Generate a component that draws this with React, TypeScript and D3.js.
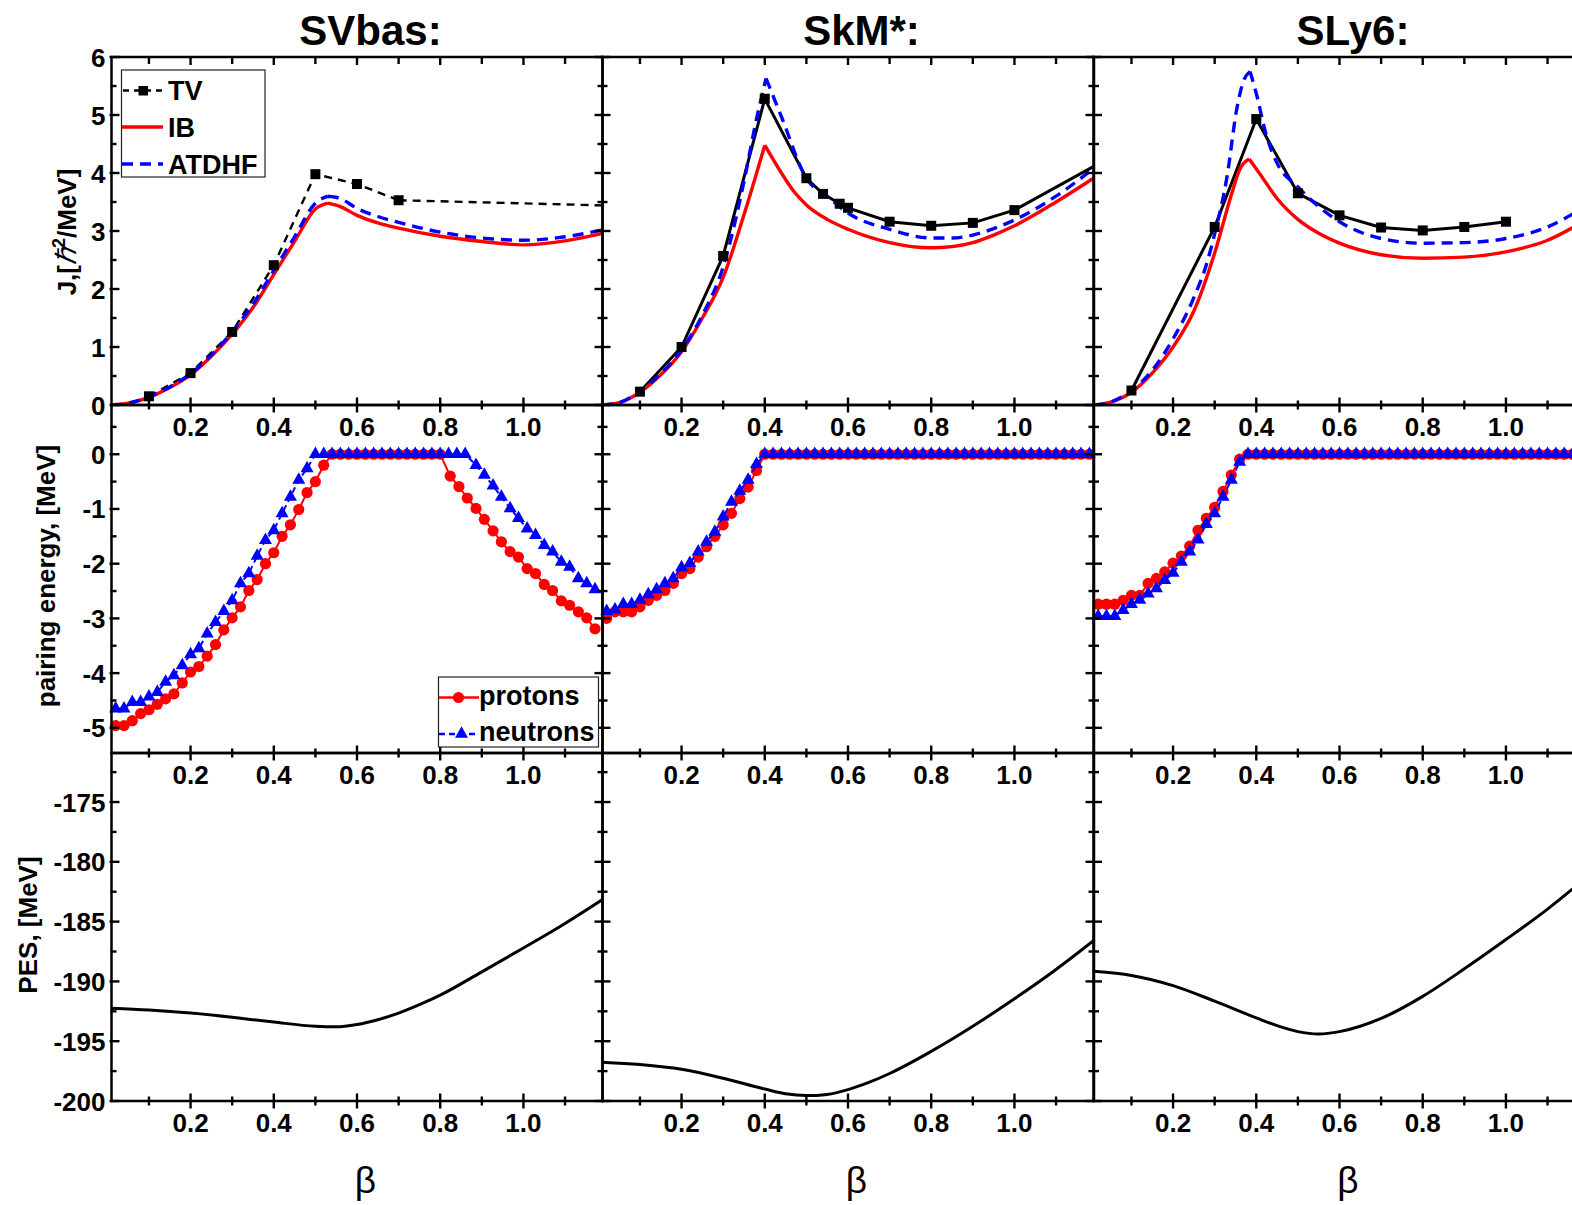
import React from "react";
import * as d3 from "d3";

type Pt = [number, number];

// ================= DATA =================
const panelTitles = ["SVbas:", "SkM*:", "SLy6:"];
const yTitlesRow = ["J", "pairing energy, [MeV]", "PES, [MeV]"];
const legendJ = ["TV", "IB", "ATDHF"];
const legendPair = ["protons", "neutrons"];

const betaMajor = [0.2, 0.4, 0.6, 0.8, 1.0];
const betaMinor = [0.1, 0.3, 0.5, 0.7, 0.9, 1.1];
const jMajor = [0, 1, 2, 3, 4, 5, 6];
const jMinor = [0.5, 1.5, 2.5, 3.5, 4.5, 5.5];
const pairMajor = [-5, -4, -3, -2, -1, 0];
const pairMinor = [-4.5, -3.5, -2.5, -1.5, -0.5, 0.5];
const pesMajor = [-200, -195, -190, -185, -180, -175];
const pesMinor = [-197.5, -192.5, -187.5, -182.5, -177.5, -172.5];

const betaDomain: [number, number] = [0.01, 1.19];
const jDomain: [number, number] = [0, 6];
const pairDomain: [number, number] = [-5.46, 0.9];
const pesDomain: [number, number] = [-200, -170.9];

// ---- moments of inertia (row 1)
const svbasTV: Pt[] = [[0.1, 0.15], [0.2, 0.55], [0.3, 1.26], [0.4, 2.41], [0.5, 3.98], [0.6, 3.81], [0.7, 3.53]];
const svbasTVTail: Pt[] = [[0.7, 3.53], [1.2, 3.44]];
const svbasIB: Pt[] = [[0.01, 0], [0.05, 0.03], [0.1, 0.13], [0.15, 0.3], [0.2, 0.52], [0.25, 0.84], [0.3, 1.22], [0.35, 1.68], [0.4, 2.25], [0.45, 2.82], [0.5, 3.38], [0.53, 3.48], [0.56, 3.42], [0.6, 3.27], [0.65, 3.14], [0.7, 3.05], [0.8, 2.91], [0.9, 2.82], [1.0, 2.76], [1.1, 2.83], [1.19, 2.96]];
const svbasAT: Pt[] = [[0.01, 0], [0.05, 0.03], [0.1, 0.14], [0.15, 0.31], [0.2, 0.54], [0.25, 0.86], [0.3, 1.26], [0.35, 1.74], [0.4, 2.32], [0.45, 2.9], [0.5, 3.48], [0.53, 3.6], [0.56, 3.56], [0.6, 3.39], [0.65, 3.25], [0.7, 3.15], [0.8, 2.98], [0.9, 2.88], [1.0, 2.84], [1.1, 2.9], [1.19, 3.02]];

const skmTV: Pt[] = [[0.1, 0.23], [0.2, 1.0], [0.3, 2.57], [0.4, 5.28], [0.5, 3.91], [0.54, 3.64], [0.58, 3.47], [0.6, 3.4], [0.7, 3.16], [0.8, 3.09], [0.9, 3.14], [1.0, 3.36], [1.2, 4.15]];
const skmIB: Pt[] = [[0.01, 0], [0.05, 0.04], [0.1, 0.22], [0.15, 0.52], [0.2, 0.92], [0.25, 1.5], [0.3, 2.2], [0.35, 3.28], [0.4, 4.48], [0.44, 4.0], [0.47, 3.68], [0.5, 3.45], [0.55, 3.2], [0.6, 3.03], [0.7, 2.8], [0.8, 2.71], [0.85, 2.73], [0.9, 2.8], [0.95, 2.93], [1.0, 3.09], [1.1, 3.5], [1.19, 3.91]];
const skmAT: Pt[] = [[0.01, 0], [0.05, 0.04], [0.1, 0.24], [0.15, 0.54], [0.2, 0.95], [0.25, 1.55], [0.3, 2.38], [0.35, 3.85], [0.378, 4.86], [0.403, 5.63], [0.44, 4.97], [0.5, 3.91], [0.55, 3.6], [0.6, 3.31], [0.7, 3.03], [0.8, 2.88], [0.85, 2.88], [0.9, 2.93], [0.95, 3.04], [1.0, 3.19], [1.1, 3.6], [1.19, 4.08]];

const sly6TV: Pt[] = [[0.1, 0.25], [0.3, 3.07], [0.4, 4.93], [0.5, 3.65], [0.6, 3.27], [0.7, 3.06], [0.8, 3.01], [0.9, 3.07], [1.0, 3.16]];
const sly6IB: Pt[] = [[0.01, 0], [0.05, 0.05], [0.1, 0.22], [0.15, 0.55], [0.2, 1.0], [0.25, 1.62], [0.3, 2.62], [0.34, 3.62], [0.36, 4.06], [0.383, 4.24], [0.41, 3.97], [0.45, 3.56], [0.5, 3.2], [0.55, 2.96], [0.6, 2.79], [0.7, 2.59], [0.8, 2.53], [0.9, 2.55], [1.0, 2.64], [1.1, 2.84], [1.19, 3.18]];
const sly6AT: Pt[] = [[0.01, 0], [0.05, 0.05], [0.1, 0.25], [0.15, 0.6], [0.2, 1.14], [0.25, 1.85], [0.28, 2.42], [0.3, 2.95], [0.33, 3.95], [0.353, 5.1], [0.37, 5.6], [0.385, 5.75], [0.4, 5.37], [0.425, 4.63], [0.45, 4.17], [0.5, 3.76], [0.6, 3.16], [0.7, 2.87], [0.8, 2.79], [0.9, 2.8], [1.0, 2.87], [1.1, 3.07], [1.19, 3.42]];

// ---- pairing energies (row 2)
const zeroPlateau = (from: number, to: number): Pt[] =>
  d3.range(Math.round(from * 100), Math.round(to * 100) + 1, 2).map((b) => [b / 100, 0] as Pt);

const svbasProtons: Pt[] = [
  [0.02, -4.96], [0.04, -4.96], [0.06, -4.87], [0.08, -4.74], [0.1, -4.67], [0.12, -4.57], [0.14, -4.47], [0.16, -4.38],
  [0.18, -4.18], [0.2, -3.98], [0.22, -3.88], [0.24, -3.69], [0.26, -3.48], [0.28, -3.21], [0.3, -2.99], [0.32, -2.79],
  [0.34, -2.49], [0.36, -2.29], [0.38, -2.0], [0.4, -1.8], [0.42, -1.5], [0.44, -1.29], [0.46, -1.01], [0.48, -0.7],
  [0.5, -0.5], [0.52, -0.2],
  ...zeroPlateau(0.54, 0.8),
  [0.824, -0.4], [0.845, -0.59], [0.865, -0.8], [0.886, -0.99], [0.906, -1.19], [0.927, -1.4], [0.947, -1.6], [0.968, -1.78],
  [0.988, -1.88], [1.009, -2.09], [1.029, -2.18], [1.05, -2.38], [1.07, -2.49], [1.091, -2.68], [1.111, -2.76], [1.132, -2.88],
  [1.152, -2.99], [1.172, -3.19],
];
const svbasNeutrons: Pt[] = [
  [0.02, -4.65], [0.04, -4.65], [0.06, -4.53], [0.08, -4.53], [0.1, -4.43], [0.12, -4.35], [0.14, -4.16], [0.16, -4.04],
  [0.18, -3.86], [0.2, -3.66], [0.22, -3.55], [0.24, -3.28], [0.26, -3.07], [0.28, -2.87], [0.3, -2.67], [0.32, -2.36],
  [0.34, -2.18], [0.36, -1.86], [0.38, -1.57], [0.4, -1.39], [0.42, -1.08], [0.44, -0.78], [0.46, -0.47], [0.48, -0.26],
  ...zeroPlateau(0.5, 0.86),
  [0.886, -0.2], [0.906, -0.38], [0.927, -0.575], [0.947, -0.78], [0.968, -0.99], [0.988, -1.17], [1.009, -1.36], [1.029, -1.48],
  [1.05, -1.66], [1.07, -1.78], [1.091, -1.97], [1.111, -2.06], [1.132, -2.27], [1.152, -2.36], [1.172, -2.47],
];
const skmProtons: Pt[] = [
  [0.02, -3.0], [0.04, -2.88], [0.06, -2.88], [0.08, -2.88], [0.1, -2.79], [0.12, -2.67], [0.14, -2.58], [0.16, -2.49],
  [0.18, -2.36], [0.2, -2.18], [0.22, -2.09], [0.24, -1.88], [0.26, -1.69], [0.28, -1.5], [0.3, -1.29], [0.32, -1.08],
  [0.34, -0.81], [0.36, -0.6], [0.38, -0.3],
  ...zeroPlateau(0.4, 1.18),
];
const skmNeutrons: Pt[] = [
  [0.02, -2.87], [0.04, -2.84], [0.06, -2.74], [0.08, -2.74], [0.1, -2.66], [0.12, -2.56], [0.14, -2.47], [0.16, -2.36],
  [0.18, -2.27], [0.2, -2.07], [0.22, -1.99], [0.24, -1.78], [0.26, -1.6], [0.28, -1.42], [0.3, -1.14], [0.32, -0.87],
  [0.34, -0.67], [0.36, -0.47], [0.38, -0.18],
  ...zeroPlateau(0.4, 1.18),
];
const sly6Protons: Pt[] = [
  [0.02, -2.74], [0.04, -2.74], [0.06, -2.74], [0.08, -2.67], [0.1, -2.58], [0.12, -2.58], [0.14, -2.36], [0.16, -2.27],
  [0.18, -2.15], [0.2, -1.99], [0.22, -1.86], [0.24, -1.68], [0.26, -1.39], [0.28, -1.17], [0.3, -0.97], [0.32, -0.68],
  [0.34, -0.38], [0.36, -0.09],
  ...zeroPlateau(0.38, 1.18),
];
const sly6Neutrons: Pt[] = [
  [0.02, -2.96], [0.04, -2.96], [0.06, -2.96], [0.08, -2.85], [0.1, -2.74], [0.12, -2.66], [0.14, -2.55], [0.16, -2.45],
  [0.18, -2.3], [0.2, -2.17], [0.22, -1.97], [0.24, -1.78], [0.26, -1.56], [0.28, -1.28], [0.3, -1.08], [0.32, -0.78],
  [0.34, -0.47], [0.36, -0.14],
  ...zeroPlateau(0.38, 1.18),
];

// ---- potential energy surfaces (row 3)
const svbasPES: Pt[] = [[0.01, -192.25], [0.1, -192.4], [0.2, -192.65], [0.3, -193.0], [0.4, -193.4], [0.5, -193.75], [0.55, -193.8], [0.6, -193.6], [0.65, -193.2], [0.7, -192.65], [0.75, -191.95], [0.8, -191.15], [0.9, -189.2], [1.0, -187.2], [1.1, -185.15], [1.19, -183.15]];
const skmPES: Pt[] = [[0.01, -196.75], [0.1, -196.95], [0.2, -197.35], [0.3, -198.1], [0.4, -199.0], [0.45, -199.4], [0.5, -199.55], [0.55, -199.45], [0.6, -199.05], [0.65, -198.45], [0.7, -197.7], [0.8, -195.85], [0.9, -193.75], [1.0, -191.45], [1.1, -189.0], [1.19, -186.6]];
const sly6PES: Pt[] = [[0.01, -189.15], [0.1, -189.5], [0.2, -190.35], [0.3, -191.65], [0.4, -193.05], [0.45, -193.7], [0.5, -194.2], [0.55, -194.4], [0.6, -194.2], [0.65, -193.75], [0.7, -193.1], [0.8, -191.25], [0.9, -188.95], [1.0, -186.5], [1.1, -183.95], [1.19, -181.4]];

const jSets = [
  { tv: svbasTV, tvTail: svbasTVTail, tvDashed: true, ib: svbasIB, at: svbasAT },
  { tv: skmTV, tvTail: null as Pt[] | null, tvDashed: false, ib: skmIB, at: skmAT },
  { tv: sly6TV, tvTail: null as Pt[] | null, tvDashed: false, ib: sly6IB, at: sly6AT },
];
const pairSets = [
  { p: svbasProtons, n: svbasNeutrons },
  { p: skmProtons, n: skmNeutrons },
  { p: sly6Protons, n: sly6Neutrons },
];
const pesSets = [svbasPES, skmPES, sly6PES];

// ================= LAYOUT =================
const W = 1572;
const H = 1205;
const COL_LEFT = [111.5, 602.5, 1094];
const PANEL_W = 491;
const ROW_TOP = [57, 405, 753];
const PANEL_H = 348;
const FONT = "'Liberation Sans', Arial, Helvetica, sans-serif";
const RED = "#ff0000";
const BLUE = "#0000ff";

const rowCfg = [
  { domain: jDomain, major: jMajor, minor: jMinor },
  { domain: pairDomain, major: pairMajor, minor: pairMinor },
  { domain: pesDomain, major: pesMajor, minor: pesMinor },
];

function smoothSplitPath(pts: Pt[], x: any, y: any): string {
  const i = d3.maxIndex(pts, (d) => d[1]);
  const gen = d3.line<Pt>().x((d) => x(d[0])).y((d) => y(d[1])).curve(d3.curveMonotoneX);
  return (gen(pts.slice(0, i + 1)) || "") + (gen(pts.slice(i)) || "");
}

function triPath(cx: number, cy: number, w = 13, h = 11.5) {
  return `M${cx},${cy - (2 * h) / 3}L${cx + w / 2},${cy + h / 3}L${cx - w / 2},${cy + h / 3}Z`;
}

function Panel({ row, col }: { row: number; col: number }) {
  const L = COL_LEFT[col];
  const T = ROW_TOP[row];
  const R = L + PANEL_W;
  const B = T + PANEL_H;
  const cfg = rowCfg[row];
  const x = d3.scaleLinear().domain(betaDomain).range([L, R]);
  const y = d3.scaleLinear().domain(cfg.domain).range([B, T]);
  const clipId = `clip-${row}-${col}`;
  const lin = d3.line<Pt>().x((d) => x(d[0])).y((d) => y(d[1]));
  const inDom = (d: Pt) => d[0] >= betaDomain[0] && d[0] <= betaDomain[1];
  const tw = 2.4;

  const content: React.ReactNode[] = [];
  if (row === 0) {
    const s = jSets[col];
    content.push(
      <g key="j" clipPath={`url(#${clipId})`}>
        <path d={lin(s.tv) || ""} fill="none" stroke="#000" strokeWidth={s.tvDashed ? 2.4 : 3} strokeDasharray={s.tvDashed ? "8,6" : undefined} />
        {s.tvTail && <path d={lin(s.tvTail) || ""} fill="none" stroke="#000" strokeWidth={2.4} strokeDasharray="8,6" />}
        <path d={smoothSplitPath(s.ib, x, y)} fill="none" stroke={RED} strokeWidth={3.4} strokeLinejoin="round" />
        <path d={smoothSplitPath(s.at, x, y)} fill="none" stroke={BLUE} strokeWidth={3.4} strokeDasharray="11,7" strokeLinejoin="round" />
      </g>
    );
    content.push(
      <g key="jm">
        {s.tv.filter(inDom).map((d, i) => (
          <rect key={i} x={x(d[0]) - 5} y={y(d[1]) - 5} width={10} height={10} fill="#000" />
        ))}
      </g>
    );
  } else if (row === 1) {
    const s = pairSets[col];
    content.push(
      <g key="p">
        <path d={lin(s.p) || ""} fill="none" stroke={RED} strokeWidth={2} clipPath={`url(#${clipId})`} />
        {s.p.filter(inDom).map((d, i) => (
          <circle key={i} cx={x(d[0])} cy={y(d[1])} r={5.6} fill={RED} />
        ))}
        <path d={lin(s.n) || ""} fill="none" stroke={BLUE} strokeWidth={2} strokeDasharray="6,4" clipPath={`url(#${clipId})`} />
        {s.n.filter(inDom).map((d, i) => (
          <path key={i} d={triPath(x(d[0]), y(d[1]))} fill={BLUE} />
        ))}
      </g>
    );
  } else {
    const gen = d3.line<Pt>().x((d) => x(d[0])).y((d) => y(d[1])).curve(d3.curveMonotoneX);
    content.push(
      <g key="pes" clipPath={`url(#${clipId})`}>
        <path d={gen(pesSets[col]) || ""} fill="none" stroke="#000" strokeWidth={3} />
      </g>
    );
  }

  // ticks
  const ticks: React.ReactNode[] = [];
  betaMajor.forEach((v, i) => {
    ticks.push(<line key={`bM${i}`} x1={x(v)} x2={x(v)} y1={B - 7.5} y2={B + 7.5} stroke="#000" strokeWidth={tw} />);
    if (row === 0) ticks.push(<line key={`tM${i}`} x1={x(v)} x2={x(v)} y1={T} y2={T + 8} stroke="#000" strokeWidth={tw} />);
  });
  betaMinor.forEach((v, i) => {
    ticks.push(<line key={`bm${i}`} x1={x(v)} x2={x(v)} y1={B - 4.5} y2={B + 4.5} stroke="#000" strokeWidth={tw} />);
    if (row === 0) ticks.push(<line key={`tm${i}`} x1={x(v)} x2={x(v)} y1={T} y2={T + 7} stroke="#000" strokeWidth={tw} />);
  });
  cfg.major.forEach((v, i) => {
    const yy = y(v);
    ticks.push(<line key={`lM${i}`} x1={L - 2} x2={L + 8} y1={yy} y2={yy} stroke="#000" strokeWidth={tw} />);
    ticks.push(<line key={`rM${i}`} x1={R - 8} x2={R} y1={yy} y2={yy} stroke="#000" strokeWidth={tw} />);
  });
  cfg.minor.forEach((v, i) => {
    const yy = y(v);
    if (yy < T - 0.5 || yy > B + 0.5) return;
    ticks.push(<line key={`lm${i}`} x1={L - 1} x2={L + 5} y1={yy} y2={yy} stroke="#000" strokeWidth={tw} />);
    ticks.push(<line key={`rm${i}`} x1={R - 5} x2={R} y1={yy} y2={yy} stroke="#000" strokeWidth={tw} />);
  });

  const labels: React.ReactNode[] = [];
  betaMajor.forEach((v, i) => {
    labels.push(
      <text key={`xl${i}`} x={x(v)} y={B + 31} textAnchor="middle" fontFamily={FONT} fontWeight="bold" fontSize={26}>
        {d3.format(".1f")(v)}
      </text>
    );
  });
  if (col === 0) {
    cfg.major.forEach((v, i) => {
      labels.push(
        <text key={`yl${i}`} x={L - 6} y={y(v) + 9.5} textAnchor="end" fontFamily={FONT} fontWeight="bold" fontSize={26}>
          {String(v)}
        </text>
      );
    });
  }

  return (
    <g>
      <defs>
        <clipPath id={clipId}>
          <rect x={L} y={T} width={PANEL_W} height={PANEL_H} />
        </clipPath>
      </defs>
      {content}
      <rect x={L} y={T} width={PANEL_W} height={PANEL_H} fill="none" stroke="#000" strokeWidth={2.5} />
      {ticks}
      {labels}
    </g>
  );
}

export default function App() {
  const cells: React.ReactNode[] = [];
  for (let r = 0; r < 3; r++) for (let c = 0; c < 3; c++) cells.push(<Panel key={`${r}-${c}`} row={r} col={c} />);

  return (
    <svg width={W} height={H} viewBox={`0 0 ${W} ${H}`} style={{ position: "absolute", left: 0, top: 0, background: "#fff" }}>
      <rect x={0} y={0} width={W} height={H} fill="#fff" />
      {cells}

      {/* panel titles */}
      {panelTitles.map((t, i) => (
        <text key={t} x={COL_LEFT[i] + 259} y={45} textAnchor="middle" fontFamily={FONT} fontWeight="bold" fontSize={42}>
          {t}
        </text>
      ))}

      {/* beta axis titles */}
      {COL_LEFT.map((l, i) => (
        <text key={`b${i}`} x={l + 254} y={1193} textAnchor="middle" fontFamily={FONT} fontSize={37}>
          β
        </text>
      ))}

      {/* y axis titles */}
      <text transform="translate(76,232) rotate(-90)" textAnchor="middle" fontFamily={FONT} fontWeight="bold" fontSize={26}>
        {yTitlesRow[0]},[
        <tspan fontFamily="'Liberation Serif', 'Times New Roman', serif" fontStyle="italic" fontWeight="normal" fontSize={28}>ℏ</tspan>
        <tspan dy={-11} fontSize={18}>2</tspan>
        <tspan dy={11}>/MeV]</tspan>
      </text>
      <text transform="translate(55,576) rotate(-90)" textAnchor="middle" fontFamily={FONT} fontWeight="bold" fontSize={26}>
        {yTitlesRow[1]}
      </text>
      <text transform="translate(37,925) rotate(-90)" textAnchor="middle" fontFamily={FONT} fontWeight="bold" fontSize={26}>
        {yTitlesRow[2]}
      </text>

      {/* legend J */}
      <g>
        <rect x={121.5} y={70} width={143.5} height={107} fill="#fff" stroke="#222" strokeWidth={1.2} />
        <line x1={123} x2={163} y1={90.5} y2={90.5} stroke="#000" strokeWidth={2.4} strokeDasharray="6,5" />
        <rect x={138.5} y={86} width={9.5} height={9.5} fill="#000" />
        <text x={168} y={100} fontFamily={FONT} fontWeight="bold" fontSize={27}>{legendJ[0]}</text>
        <line x1={122} x2={163} y1={127} y2={127} stroke={RED} strokeWidth={3.4} />
        <text x={168} y={136.5} fontFamily={FONT} fontWeight="bold" fontSize={27}>{legendJ[1]}</text>
        <line x1={122} x2={163} y1={164} y2={164} stroke={BLUE} strokeWidth={3.4} strokeDasharray="11,7" />
        <text x={168} y={173.5} fontFamily={FONT} fontWeight="bold" fontSize={27}>{legendJ[2]}</text>
      </g>

      {/* legend pairing */}
      <g>
        <rect x={438.5} y={677} width={160} height={70} fill="#fff" stroke="#222" strokeWidth={1.2} />
        <line x1={439} x2={479} y1={697.5} y2={697.5} stroke={RED} strokeWidth={2.4} />
        <circle cx={458.5} cy={697.5} r={5.6} fill={RED} />
        <text x={479} y={705} fontFamily={FONT} fontWeight="bold" fontSize={27}>{legendPair[0]}</text>
        <line x1={439} x2={479} y1={734} y2={734} stroke={BLUE} strokeWidth={2.4} strokeDasharray="6,4" />
        <path d={triPath(461.5, 734)} fill={BLUE} />
        <text x={479} y={740.5} fontFamily={FONT} fontWeight="bold" fontSize={27}>{legendPair[1]}</text>
      </g>
    </svg>
  );
}
